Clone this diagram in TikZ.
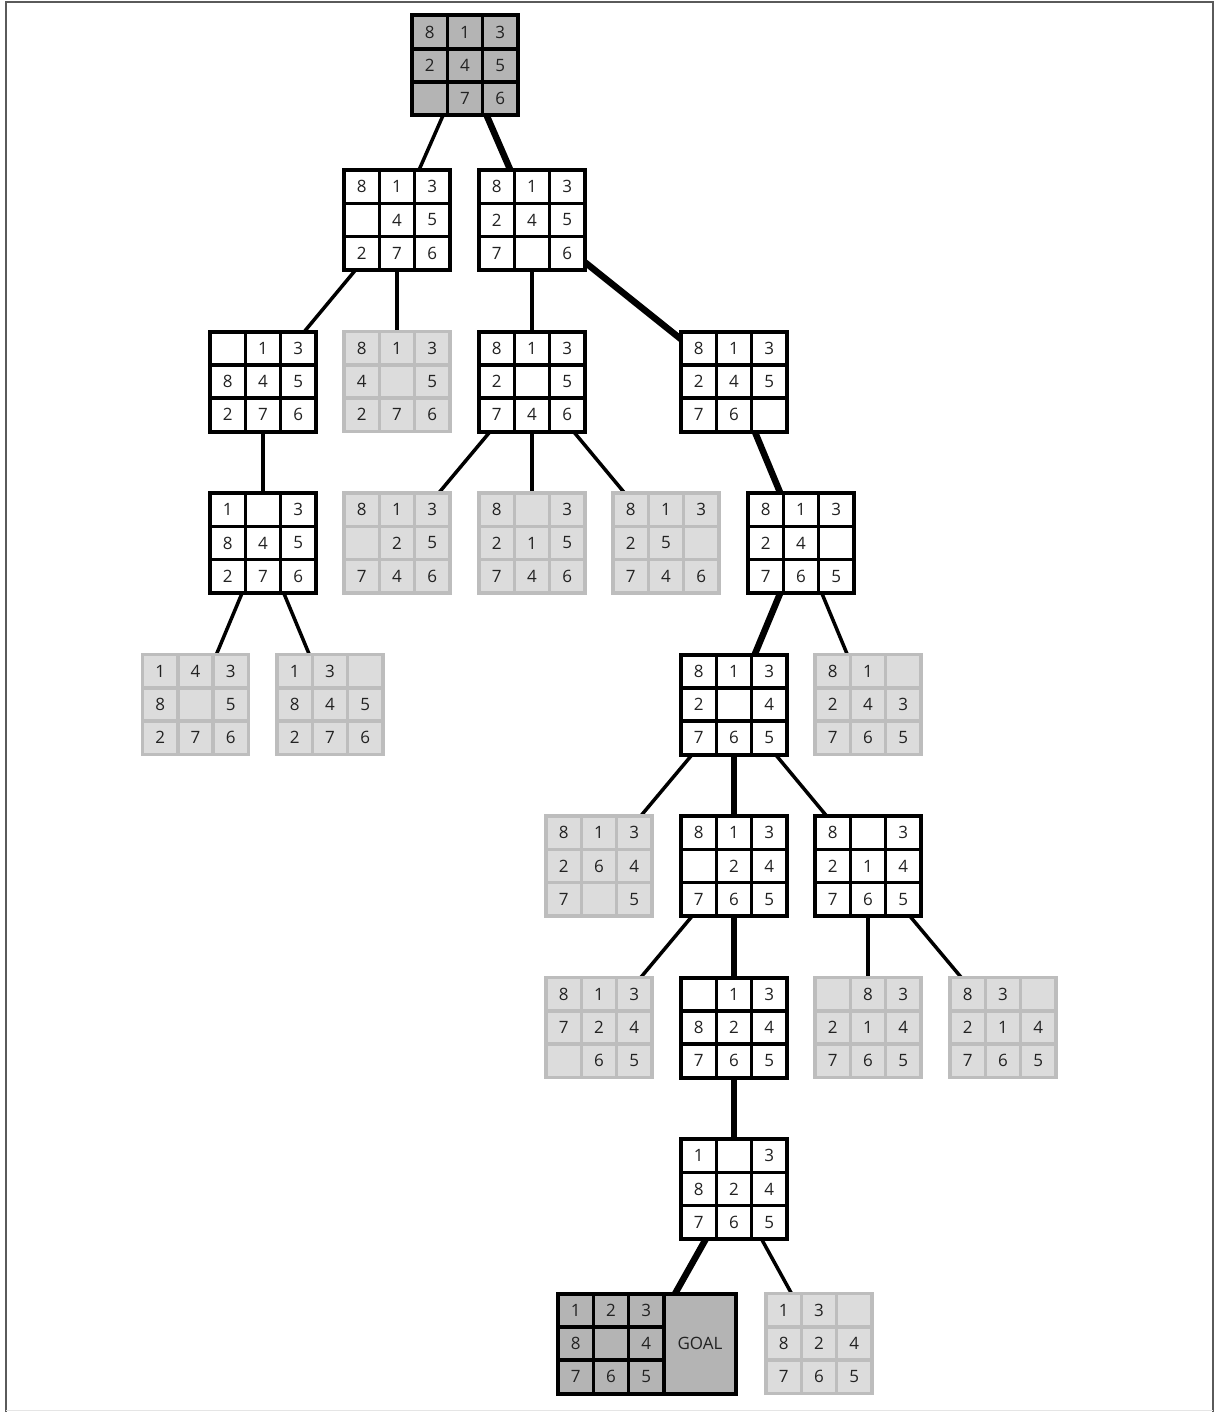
\documentclass[tikz,border=0pt]{standalone}
\usepackage{fontspec}
\newfontfamily\digitfont{Open Sans}
\usetikzlibrary{calc}
\pgfdeclarelayer{bg}
\pgfsetlayers{bg,main}
\definecolor{darkfill}{HTML}{B4B4B4}
\definecolor{lightfill}{HTML}{DCDCDC}
\definecolor{lightline}{HTML}{BDBDBD}
\definecolor{txt}{HTML}{222222}
\definecolor{framecol}{HTML}{5A5A5A}
\tikzset{
  box/.style={rectangle, minimum width=106pt, minimum height=100pt, inner sep=0pt, outer sep=0pt},
  bold box/.style={box, draw=black, fill=white, line width=4pt},
  gray box/.style={box, draw=lightline, fill=lightfill, line width=3.5pt},
  dark box/.style={box, draw=black, fill=darkfill, line width=4pt},
  bold grid/.style={draw=black, line width=3.5pt},
  gray grid/.style={draw=lightline, line width=3.5pt},
  dark grid/.style={draw=black, line width=3.5pt},
  digit/.style={inner sep=0pt, text=txt, font=\digitfont\fontsize{17pt}{17pt}\selectfont},
  thinedge/.style={draw=black, line width=3.5pt},
  thickedge/.style={draw=black, line width=6.5pt},
}
\newcommand\puz[4]{%
  \node[#3 box] (#1) at (#2) {};
  \draw[#3 grid]
    ($(#1.center)+(-17.67,-50)$) -- ($(#1.center)+(-17.67,50)$)
    ($(#1.center)+(17.67,-50)$) -- ($(#1.center)+(17.67,50)$)
    ($(#1.center)+(-53,-16.67)$) -- ($(#1.center)+(53,-16.67)$)
    ($(#1.center)+(-53,16.67)$) -- ($(#1.center)+(53,16.67)$);
  \foreach \v [count=\i from 0] in {#4} {%
    \pgfmathtruncatemacro\rr{div(\i,3)}%
    \pgfmathtruncatemacro\cc{mod(\i,3)}%
    \node[digit] (#1-\i) at ($(#1.center)+({(\cc-1)*35.33},{(\rr-1)*33.33})$) {\v};
  }%
}
\begin{document}
\begin{tikzpicture}[x=1pt,y=-1pt]
\useasboundingbox (0,0) rectangle (1219,1412);
% frame
\draw[framecol, line width=2pt] (5.5,1412) -- (5.5,2) -- (1212.5,2) -- (1212.5,1412);
\draw[black!10, line width=1pt] (5.5,1410.5) -- (1212.5,1410.5);

% level 0
\puz{r}{465,65.5}{dark}{8,1,3,2,4,5,{},7,6}
% level 1
\puz{a}{397,220}{bold}{8,1,3,{},4,5,2,7,6}
\puz{b}{532,220}{bold}{8,1,3,2,4,5,7,{},6}
% level 2
\puz{a1}{263,381.5}{bold}{{},1,3,8,4,5,2,7,6}
\puz{a2}{397,381.5}{gray}{8,1,3,4,{},5,2,7,6}
\puz{b1}{532,381.5}{bold}{8,1,3,2,{},5,7,4,6}
\puz{b2}{734,381.5}{bold}{8,1,3,2,4,5,7,6,{}}
% level 3
\puz{a11}{263,543}{bold}{1,{},3,8,4,5,2,7,6}
\puz{b11}{397,543}{gray}{8,1,3,{},2,5,7,4,6}
\puz{b12}{532,543}{gray}{8,{},3,2,1,5,7,4,6}
\puz{b13}{666,543}{gray}{8,1,3,2,5,{},7,4,6}
\puz{c}{801,543}{bold}{8,1,3,2,4,{},7,6,5}
% level 4
\puz{a111}{195.5,704.5}{gray}{1,4,3,8,{},5,2,7,6}
\puz{a112}{330,704.5}{gray}{1,3,{},8,4,5,2,7,6}
\puz{d}{734,704.5}{bold}{8,1,3,2,{},4,7,6,5}
\puz{c2}{868,704.5}{gray}{8,1,{},2,4,3,7,6,5}
% level 5
\puz{d1}{599,866}{gray}{8,1,3,2,6,4,7,{},5}
\puz{e}{734,866}{bold}{8,1,3,{},2,4,7,6,5}
\puz{h}{868,866}{bold}{8,{},3,2,1,4,7,6,5}
% level 6
\puz{e1}{599,1027.5}{gray}{8,1,3,7,2,4,{},6,5}
\puz{f}{734,1027.5}{bold}{{},1,3,8,2,4,7,6,5}
\puz{h1}{868,1027.5}{gray}{{},8,3,2,1,4,7,6,5}
\puz{h2}{1003,1027.5}{gray}{8,3,{},2,1,4,7,6,5}
% level 7
\puz{g}{734,1189}{bold}{1,{},3,8,2,4,7,6,5}
% level 8
\node[dark box, minimum width=178pt] (goal) at (647,1343.5) {};
\draw[dark grid]
  ($(goal.center)+(-53.67,-50)$) -- ($(goal.center)+(-53.67,50)$)
  ($(goal.center)+(-18.33,-50)$) -- ($(goal.center)+(-18.33,50)$)
  ($(goal.center)+(17,-50)$) -- ($(goal.center)+(17,50)$)
  ($(goal.center)+(-89,-16.67)$) -- ($(goal.center)+(17,-16.67)$)
  ($(goal.center)+(-89,16.67)$) -- ($(goal.center)+(17,16.67)$);
\foreach \v [count=\i from 0] in {1,2,3,8,{},4,7,6,5} {%
  \pgfmathtruncatemacro\rr{div(\i,3)}%
  \pgfmathtruncatemacro\cc{mod(\i,3)}%
  \node[digit] (goal-\i) at ($(goal.center)+({-71.33+\cc*35.33},{(\rr-1)*33.33})$) {\v};
}
\node[digit] (goaltext) at ($(goal.center)+(53,0)$) {GOAL};
\puz{g2}{819,1343.5}{gray}{1,3,{},8,2,4,7,6,5}

% edges
\begin{pgfonlayer}{bg}
\draw[thinedge] (r) -- (a);
\draw[thickedge] (r) -- (b);
\draw[thinedge] (a) -- (a1);
\draw[thinedge] (a) -- (a2);
\draw[thinedge] (a1) -- (a11);
\draw[thinedge] (a11) -- (a111);
\draw[thinedge] (a11) -- (a112);
\draw[thinedge] (b) -- (b1);
\draw[thickedge] (b) -- (b2);
\draw[thinedge] (b1) -- (b11);
\draw[thinedge] (b1) -- (b12);
\draw[thinedge] (b1) -- (b13);
\draw[thickedge] (b2) -- (c);
\draw[thickedge] (c) -- (d);
\draw[thinedge] (c) -- (c2);
\draw[thinedge] (d) -- (d1);
\draw[thickedge] (d) -- (e);
\draw[thinedge] (d) -- (h);
\draw[thinedge] (e) -- (e1);
\draw[thickedge] (e) -- (f);
\draw[thinedge] (h) -- (h1);
\draw[thinedge] (h) -- (h2);
\draw[thickedge] (f) -- (g);
\draw[thickedge] (g) -- (goal);
\draw[thinedge] (g) -- (g2);
\end{pgfonlayer}
\end{tikzpicture}
\end{document}
